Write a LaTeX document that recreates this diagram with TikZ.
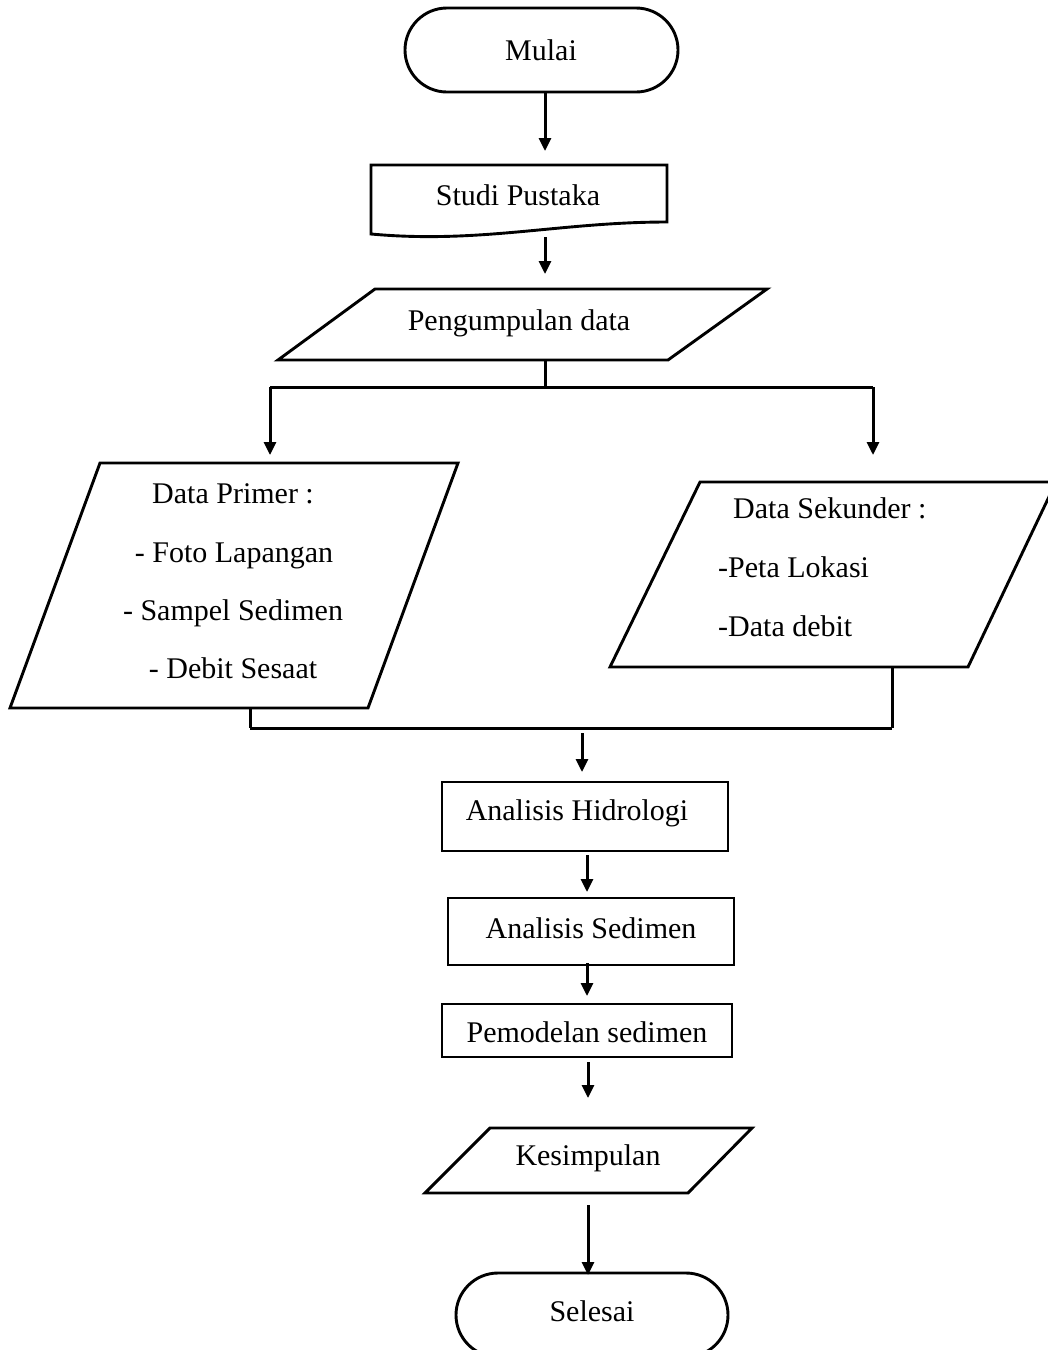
\documentclass[tikz,border=0pt]{standalone}
\usepackage{fontspec}
\setmainfont{Liberation Serif}
\usetikzlibrary{arrows.meta}
\begin{document}
\begin{tikzpicture}[x=1pt,y=-1pt,
  shapeline/.style={line width=2.9pt, line join=miter},
  conn/.style={line width=3pt},
  arr/.style={conn, -{Triangle[length=13pt,width=12pt]}},
  lbl/.style={font=\fontsize{30}{36}\selectfont, inner sep=0pt, text height=21pt, text depth=0pt},
]
\useasboundingbox (0,0) rectangle (1048,1350);
\clip (0,0) rectangle (1048,1350);

% ---- Mulai (terminator)
\draw[shapeline, rounded corners=42pt] (405,8) rectangle (678,92);
\node[lbl] (mulai) at (541,50) {Mulai};
\coordinate (mulai-b) at (545,92);

% ---- Studi Pustaka (document)
\draw[shapeline] (371,165) -- (667,165) -- (667,222)
   .. controls (560,222) and (480,244) .. (371,234) -- cycle;
\node[lbl] (studi) at (518,195) {Studi Pustaka};
\coordinate (studi-t) at (545,151);
\coordinate (studi-b) at (545,237);

% ---- Pengumpulan data (parallelogram)
\draw[shapeline] (375,289) -- (767,289) -- (668,360) -- (278,360) -- cycle;
\node[lbl] (kumpul) at (519,320) {Pengumpulan data};
\coordinate (kumpul-t) at (545,274);
\coordinate (kumpul-b) at (545,360);
\coordinate (split) at (545,387);
\coordinate (splitL) at (270,387);
\coordinate (splitR) at (873,387);

% ---- Data Primer
\draw[shapeline] (100,463) -- (458,463) -- (368,708) -- (10,708) -- cycle;
\node[lbl] (pri1) at (233,493) {Data Primer :};
\node[lbl] (pri2) at (234,552) {- Foto Lapangan};
\node[lbl] (pri3) at (233,610) {- Sampel Sedimen};
\node[lbl] (pri4) at (233,668) {- Debit Sesaat};
\coordinate (pri-t) at (270,455);
\coordinate (pri-b) at (250,708);
\coordinate (joinL) at (250,728);

% ---- Data Sekunder
\draw[shapeline] (700,482) -- (1056,482) -- (968,667) -- (610,667) -- cycle;
\node[lbl, anchor=west] (sek1) at (733,508) {Data Sekunder :};
\node[lbl, anchor=west] (sek2) at (718,567) {-Peta Lokasi};
\node[lbl, anchor=west] (sek3) at (718,626) {-Data debit};
\coordinate (sek-t) at (873,455);
\coordinate (sek-b) at (892,667);
\coordinate (joinR) at (892,728);

% ---- Analisis Hidrologi
\draw[shapeline] (442,782) rectangle (728,851);
\node[lbl] (hid) at (577,810) {Analisis Hidrologi};
\coordinate (hid-in0) at (582,733);
\coordinate (hid-t) at (582,772);
\coordinate (hid-b) at (587,855);

% ---- Analisis Sedimen
\draw[shapeline] (448,898) rectangle (734,965);
\node[lbl] (sed) at (591,928) {Analisis Sedimen};
\coordinate (sed-t) at (587,892);
\coordinate (sed-b) at (587,963);

% ---- Pemodelan sedimen
\draw[shapeline] (442,1004) rectangle (732,1057);
\node[lbl] (model) at (587,1032) {Pemodelan sedimen};
\coordinate (model-t) at (587,996);
\coordinate (model-b) at (588,1062);

% ---- Kesimpulan
\draw[shapeline] (490,1128) -- (752,1128) -- (688,1193) -- (425,1193) -- cycle;
\node[lbl] (kes) at (588,1155) {Kesimpulan};
\coordinate (kes-t) at (588,1098);
\coordinate (kes-b) at (588,1205);

% ---- Selesai (terminator)
\draw[shapeline, rounded corners=42pt] (456,1273) rectangle (728,1357);
\node[lbl] (selesai) at (592,1311) {Selesai};
\coordinate (selesai-t) at (588,1275);

% ---- connectors
\draw[arr] (mulai-b) -- (studi-t);
\draw[arr] (studi-b) -- (kumpul-t);
\draw[conn] (kumpul-b) -- (split);
\draw[conn] (splitL) -- (splitR);
\draw[arr] (splitL) -- (pri-t);
\draw[arr] (splitR) -- (sek-t);
\draw[conn] (pri-b) -- (joinL);
\draw[conn] (sek-b) -- (joinR);
\draw[conn] (joinL) -- (joinR);
\draw[arr] (hid-in0) -- (hid-t);
\draw[arr] (hid-b) -- (sed-t);
\draw[arr] (sed-b) -- (model-t);
\draw[arr] (model-b) -- (kes-t);
\draw[arr] (kes-b) -- (selesai-t);
\end{tikzpicture}
\end{document}
